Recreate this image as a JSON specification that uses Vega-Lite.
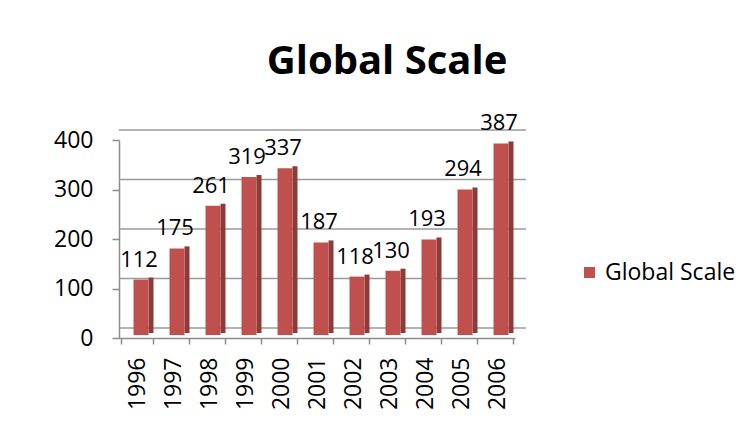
{
  "$schema": "https://vega.github.io/schema/vega-lite/v6.json",
  "width": 396,
  "height": 198,
  "autosize": {"type": "none"},
  "padding": {"left": 119, "top": 140, "right": 234, "bottom": 106},
  "background": "white",
  "title": {
    "text": "Global Scale",
    "font": "Open Sans",
    "fontSize": 40,
    "fontWeight": "bold",
    "color": "#000000",
    "anchor": "middle",
    "dx": 70,
    "offset": 30
  },
  "config": {
    "view": {"stroke": null},
    "font": "Open Sans"
  },
  "datasets": {
    "main": [
      {"year": "1996", "value": 112},
      {"year": "1997", "value": 175},
      {"year": "1998", "value": 261},
      {"year": "1999", "value": 319},
      {"year": "2000", "value": 337},
      {"year": "2001", "value": 187},
      {"year": "2002", "value": 118},
      {"year": "2003", "value": 130},
      {"year": "2004", "value": 193},
      {"year": "2005", "value": 294},
      {"year": "2006", "value": 387}
    ],
    "grid": [
      {"g": 0}, {"g": 100}, {"g": 200}, {"g": 300}, {"g": 400}
    ]
  },
  "layer": [
    {
      "data": {"name": "grid"},
      "mark": {"type": "rule", "color": "#9a9a9a", "strokeWidth": 1.5, "xOffset": 11, "x2Offset": 11, "yOffset": -10},
      "encoding": {
        "y": {
          "field": "g", "type": "quantitative", "title": null,
          "scale": {"domain": [0, 400]},
          "axis": {
            "values": [0, 100, 200, 300, 400],
            "grid": false,
            "labelFontSize": 23,
            "labelColor": "#000000",
            "labelPadding": 19,
            "tickColor": "#8c8c8c",
            "tickWidth": 1.5,
            "tickSize": 7,
            "domainColor": "#8c8c8c",
            "domainWidth": 1.5
          }
        }
      }
    },
    {
      "data": {"name": "main"},
      "mark": {"type": "bar", "width": 5, "xOffset": 14, "yOffset": -5, "y2Offset": -4, "color": "#8C3B39"},
      "encoding": {
        "x": {"field": "year", "type": "nominal"},
        "y": {"field": "value", "type": "quantitative"}
      }
    },
    {
      "data": {"name": "main"},
      "mark": {"type": "bar", "width": 15, "xOffset": 4, "yOffset": -3, "y2Offset": -3},
      "encoding": {
        "x": {
          "field": "year", "type": "nominal", "title": null,
          "axis": {
            "labelAngle": -90,
            "labelFontSize": 23,
            "labelColor": "#000000",
            "labelPadding": 13,
            "tickBand": "extent",
            "tickColor": "#8c8c8c",
            "tickWidth": 1.5,
            "tickSize": 6,
            "domainColor": "#8c8c8c",
            "domainWidth": 1.5
          }
        },
        "y": {"field": "value", "type": "quantitative"},
        "color": {
          "datum": "Global Scale",
          "scale": {"range": ["#C0504D"]},
          "legend": {
            "title": null,
            "orient": "none",
            "legendX": 459,
            "legendY": 121,
            "symbolType": "square",
            "symbolSize": 121,
            "symbolStrokeWidth": 0,
            "labelFontSize": 23,
            "labelColor": "#000000",
            "labelFont": "Open Sans"
          }
        }
      }
    },
    {
      "data": {"name": "main"},
      "mark": {"type": "text", "fontSize": 22, "color": "#000000", "baseline": "alphabetic", "align": "center", "dx": 2, "dy": -16},
      "encoding": {
        "x": {"field": "year", "type": "nominal"},
        "y": {"field": "value", "type": "quantitative"},
        "text": {"field": "value", "type": "quantitative"}
      }
    }
  ]
}
